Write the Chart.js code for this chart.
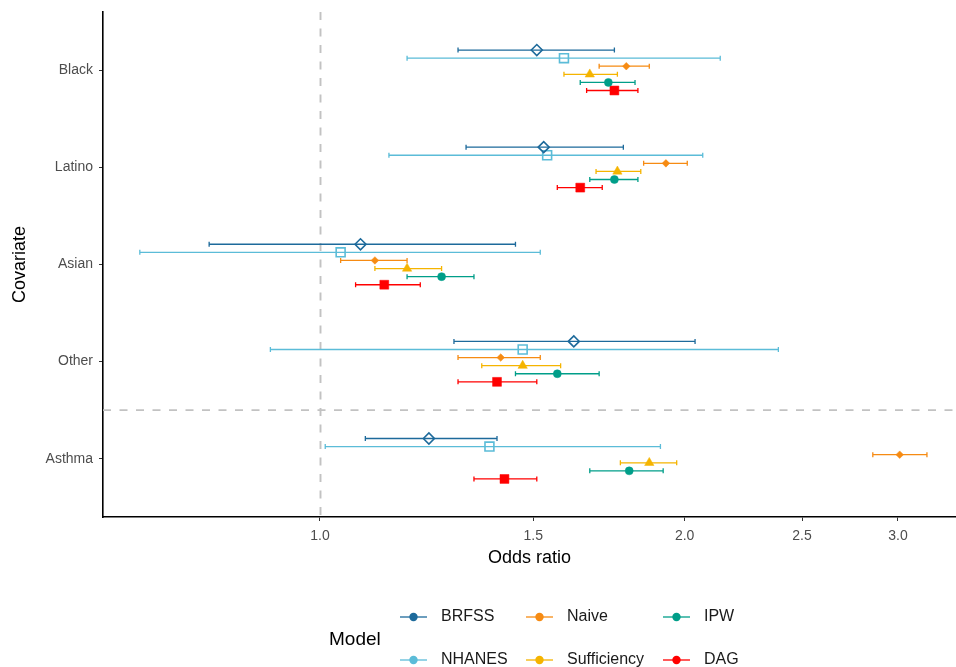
<!DOCTYPE html>
<html>
<head>
<meta charset="utf-8">
<script src="https://cdn.jsdelivr.net/npm/chart.js@4/dist/chart.umd.min.js"></script>
<style>
  body { margin: 0; background: #fff; }
  #wrap { width: 956px; height: 667px; position: relative; }
</style>
</head>
<body>
<div id="wrap"><canvas id="forest"></canvas></div>
<script>
var categories = ["Black", "Latino", "Asian", "Other", "Asthma"];
var models = ["BRFSS", "NHANES", "Naive", "Sufficiency", "IPW", "DAG"];
var xTicks = [1.0, 1.5, 2.0, 2.5, 3.0];

// odds ratios, one value per category (Black, Latino, Asian, Other, Asthma)
var estBRFSS = [1.51, 1.53, 1.08, 1.62, 1.23];
var estNHANES = [1.59, 1.54, 1.04, 1.47, 1.38];
var estNaive = [1.79, 1.93, 1.11, 1.41, 3.01];
var estSufficiency = [1.67, 1.76, 1.18, 1.47, 1.87];
var estIPW = [1.73, 1.75, 1.26, 1.57, 1.80];
var estDAG = [1.75, 1.64, 1.13, 1.40, 1.42];

var lowBRFSS = [1.30, 1.32, 0.81, 1.29, 1.09];
var lowNHANES = [1.18, 1.14, 0.71, 0.91, 1.01];
var lowNaive = [1.70, 1.85, 1.04, 1.30, 2.86];
var lowSufficiency = [1.59, 1.69, 1.11, 1.36, 1.77];
var lowIPW = [1.64, 1.67, 1.18, 1.45, 1.67];
var lowDAG = [1.66, 1.57, 1.07, 1.30, 1.34];

var highBRFSS = [1.75, 1.78, 1.45, 2.04, 1.40];
var highNHANES = [2.14, 2.07, 1.52, 2.39, 1.91];
var highNaive = [1.87, 2.01, 1.18, 1.52, 3.17];
var highSufficiency = [1.76, 1.84, 1.26, 1.58, 1.97];
var highIPW = [1.82, 1.83, 1.34, 1.70, 1.92];
var highDAG = [1.83, 1.71, 1.21, 1.51, 1.51];

var estimates = [estBRFSS, estNHANES, estNaive, estSufficiency, estIPW, estDAG];
var lows = [lowBRFSS, lowNHANES, lowNaive, lowSufficiency, lowIPW, lowDAG];
var highs = [highBRFSS, highNHANES, highNaive, highSufficiency, highIPW, highDAG];

var colors = ["#1d6a9b", "#5bbcd8", "#f68b13", "#f5b400", "#009e89", "#ff0000"];
var shapes = ["rectRot", "rect", "rectRot", "triangle", "circle", "rect"];
var sizes = [5.5, 6.3, 3.8, 5.4, 4.0, 6.3];
var hollow = [true, true, false, false, false, false];

var FONT = "'Liberation Sans', Arial, sans-serif";
var dodge = 0.5 / models.length;

function yPos(cat, m) {
  return cat + (m - (models.length - 1) / 2) * dodge;
}

var datasets = models.map(function (name, m) {
  return {
    label: name,
    data: categories.map(function (c, i) {
      return { x: estimates[m][i], y: yPos(i, m), lo: lows[m][i], hi: highs[m][i] };
    }),
    pointStyle: shapes[m],
    pointRadius: sizes[m],
    pointHoverRadius: sizes[m],
    borderColor: colors[m],
    backgroundColor: hollow[m] ? "rgba(0,0,0,0)" : colors[m],
    borderWidth: hollow[m] ? 1.6 : 0.5,
    showLine: false
  };
});

// dashed reference lines + error bars, under the points
var errorBars = {
  id: "errorBars",
  beforeDatasetsDraw: function (chart) {
    var ctx = chart.ctx;
    var xs = chart.scales.x, ys = chart.scales.y, area = chart.chartArea;
    ctx.save();
    ctx.strokeStyle = "#c2c2c2";
    ctx.lineWidth = 1.9;
    ctx.setLineDash([8, 8.5]);
    var x1 = Math.round(xs.getPixelForValue(1)) + 0.5;
    ctx.beginPath();
    ctx.moveTo(x1, area.top);
    ctx.lineTo(x1, area.bottom);
    ctx.stroke();
    var yh = ys.getPixelForValue(3.5);
    ctx.beginPath();
    ctx.moveTo(area.left, yh);
    ctx.lineTo(area.right, yh);
    ctx.stroke();
    ctx.setLineDash([]);

    chart.data.datasets.forEach(function (ds, m) {
      ctx.strokeStyle = colors[m];
      ctx.lineWidth = 1.3;
      ds.data.forEach(function (p) {
        var y = ys.getPixelForValue(p.y);
        var a = xs.getPixelForValue(p.lo);
        var b = xs.getPixelForValue(p.hi);
        ctx.beginPath();
        ctx.moveTo(a, y); ctx.lineTo(b, y);
        ctx.moveTo(a, y - 2.5); ctx.lineTo(a, y + 2.5);
        ctx.moveTo(b, y - 2.5); ctx.lineTo(b, y + 2.5);
        ctx.stroke();
      });
    });
    ctx.restore();
  }
};

// ggplot-style legend at the bottom, title on the left
var bottomLegend = {
  id: "bottomLegend",
  afterDraw: function (chart) {
    var ctx = chart.ctx;
    ctx.save();
    ctx.fillStyle = "#000";
    ctx.font = "19px " + FONT;
    ctx.textBaseline = "middle";
    ctx.textAlign = "left";
    ctx.fillText("Model", 329, 640);
    var colX = [400, 526, 663];
    var rowY = [617, 660];
    ctx.font = "16px " + FONT;
    models.forEach(function (name, m) {
      var c = Math.floor(m / 2), r = m % 2;
      var x = colX[c], y = rowY[r];
      ctx.strokeStyle = colors[m];
      ctx.lineWidth = 1.3;
      ctx.beginPath();
      ctx.moveTo(x, y); ctx.lineTo(x + 27, y);
      ctx.stroke();
      ctx.fillStyle = colors[m];
      ctx.beginPath();
      ctx.arc(x + 13.5, y, 4.2, 0, Math.PI * 2);
      ctx.fill();
      ctx.fillStyle = "#1a1a1a";
      ctx.fillText(name, x + 41, y);
    });
    ctx.restore();
  }
};

new Chart("forest", {
  type: "scatter",
  data: { datasets: datasets },
  plugins: [errorBars, bottomLegend],
  options: {
    responsive: true,
    maintainAspectRatio: false,
    animation: false,
    layout: { autoPadding: false, padding: { top: 12, right: 0, bottom: 87, left: 0 } },
    plugins: {
      legend: { display: false },
      tooltip: { enabled: false }
    },
    scales: {
      x: {
        type: "logarithmic",
        min: 0.662,
        max: 3.35,
        afterBuildTicks: function (scale) {
          scale.ticks = xTicks.map(function (v) { return { value: v }; });
        },
        afterFit: function (scale) {
          scale.height = 63;
          scale.paddingLeft = 0;
          scale.paddingRight = 0;
        },
        grid: { drawOnChartArea: false, drawTicks: true, tickLength: 4, color: "#333" },
        border: { display: true, color: "#000", width: 1.6 },
        ticks: {
          color: "#4d4d4d",
          font: { family: FONT, size: 14 },
          padding: 7,
          maxRotation: 0,
          autoSkip: false,
          callback: function (v) { return Number(v).toFixed(1); }
        },
        title: {
          display: true,
          text: "Odds ratio",
          color: "#000",
          font: { family: FONT, size: 18 },
          padding: { top: 0, bottom: 11 }
        }
      },
      y: {
        type: "linear",
        reverse: true,
        min: -0.6,
        max: categories.length - 0.4,
        afterBuildTicks: function (scale) {
          scale.ticks = categories.map(function (c, i) { return { value: i }; });
        },
        afterFit: function (scale) {
          scale.width = 103;
          scale.paddingTop = 0;
          scale.paddingBottom = 0;
        },
        grid: { drawOnChartArea: false, drawTicks: true, tickLength: 4, color: "#333" },
        border: { display: true, color: "#000", width: 1.6 },
        ticks: {
          color: "#4d4d4d",
          font: { family: FONT, size: 14 },
          padding: 6,
          autoSkip: false,
          callback: function (v) { return categories[v]; }
        },
        title: {
          display: true,
          text: "Covariate",
          color: "#000",
          font: { family: FONT, size: 18 },
          padding: { top: 9, bottom: 0 }
        }
      }
    }
  }
});
</script>
</body>
</html>
